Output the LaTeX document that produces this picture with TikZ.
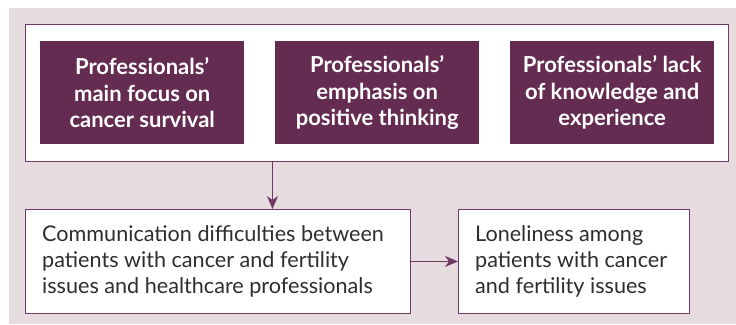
\documentclass[tikz,border=0pt]{standalone}
\usepackage{fontspec}
\setmainfont{Lato}
\usetikzlibrary{arrows.meta}
\definecolor{bgc}{HTML}{E6DCE0}
\definecolor{plum}{HTML}{652C52}
\definecolor{edge}{HTML}{6E3A62}
\definecolor{txt}{HTML}{2E2E2E}
\tikzset{
  x=1pt,y=-1pt,
  darkbox/.style={fill=plum,draw=none,text=white,font=\bfseries\fontsize{22}{26.5}\selectfont,align=center,minimum width=204pt,minimum height=103pt,inner sep=0pt},
  whitebox/.style={fill=white,draw=edge,line width=0.9pt},
  lbox/.style={text=txt,font=\fontsize{21.6}{26}\selectfont,align=left,inner sep=0pt},
  conn/.style={draw=edge,line width=1pt,-{Stealth[length=13pt,width=11pt,inset=4pt]}}
}
\begin{document}
\begin{tikzpicture}
\useasboundingbox (0,0) rectangle (736,324);
\fill[white] (0,0) rectangle (736,324);
\fill[bgc] (9,8) rectangle (736,324);
\node[whitebox,minimum width=703pt,minimum height=137pt,inner sep=0pt,anchor=north west] (outer) at (25,24) {};
\node[darkbox,anchor=north west] (p1) at (40,41) {Professionals’\\main focus on\\cancer survival};
\node[darkbox,anchor=north west] (p2) at (275,41) {Professionals’\\emphasis on\\positive thinking};
\node[darkbox,anchor=north west] (p3) at (510,41) {Professionals’ lack\\of knowledge and\\experience};
\node[whitebox,minimum width=385pt,minimum height=104pt,inner sep=0pt,anchor=north west] (comm) at (25,209) {};
\node[lbox,anchor=west] (commt) at ([xshift=17pt]comm.west) {Communication difficulties between\\patients with cancer and fertility\\issues and healthcare professionals};
\node[whitebox,minimum width=231pt,minimum height=104pt,inner sep=0pt,anchor=north west] (lone) at (458,209) {};
\node[lbox,anchor=west] (lonet) at ([xshift=17pt]lone.west) {Loneliness among\\patients with cancer\\and fertility issues};
\coordinate (top) at (272.5,161);
\draw[conn] (outer.south -| top) -- (comm.north -| top);
\draw[conn] (comm.east) -- (lone.west);
\end{tikzpicture}
\end{document}
